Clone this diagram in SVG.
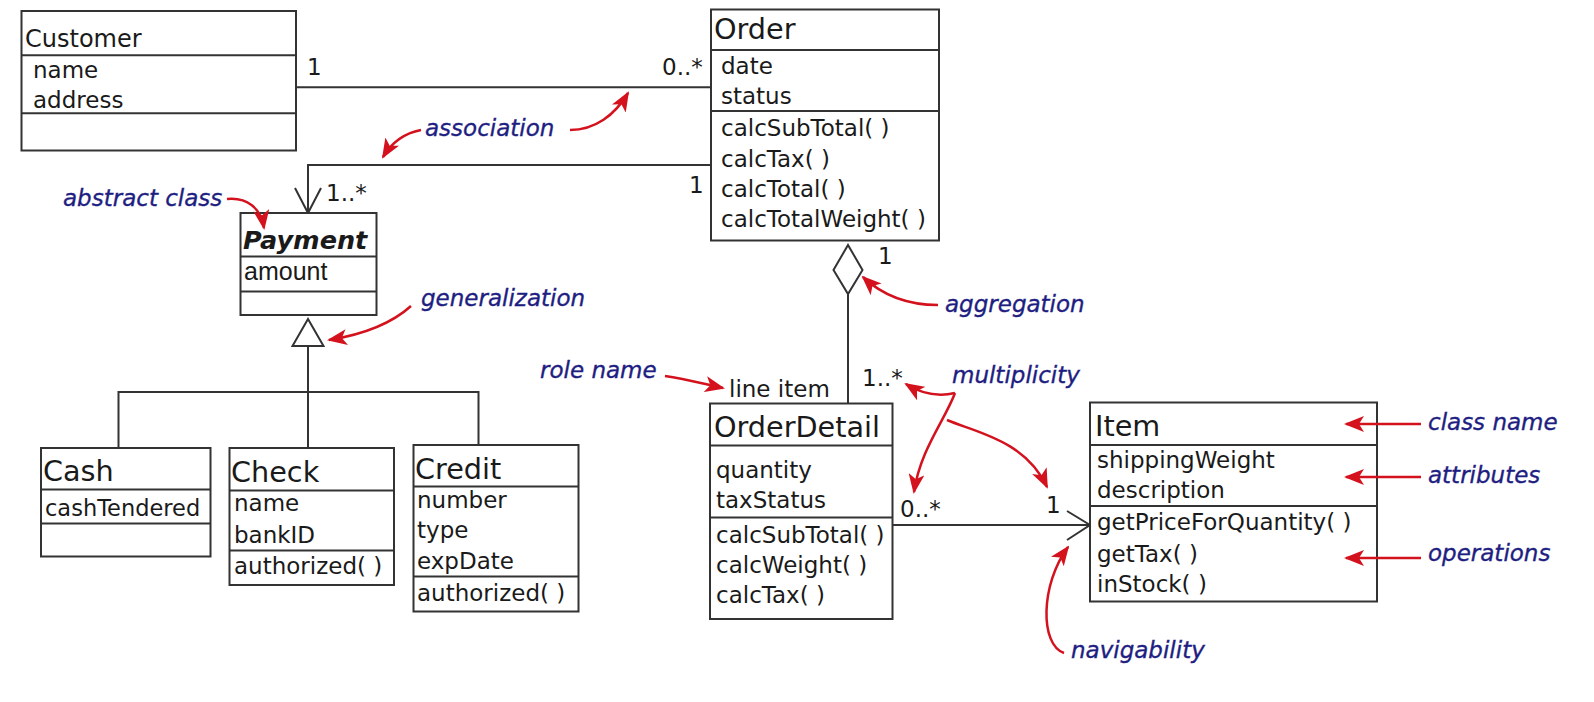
<svg xmlns="http://www.w3.org/2000/svg" width="1594" height="702" viewBox="0 0 1594 702">
<defs>
<marker id="ra" viewBox="0 0 20 16" refX="18" refY="8" markerWidth="20" markerHeight="16" orient="auto" markerUnits="userSpaceOnUse">
<path d="M0,0 L20,8 L0,16 L5,8 z" fill="#d4121e"/>
</marker>
<style>
.box{fill:#fff;stroke:#333;stroke-width:2}
.sep{stroke:#333;stroke-width:2}
.t{font-family:"DejaVu Sans",sans-serif;font-size:23px;fill:#1a1a1a}
.ti{font-family:"DejaVu Sans",sans-serif;font-size:28.7px;fill:#1a1a1a}
.ar{font-family:"Liberation Sans",Arial,sans-serif;font-size:25px;fill:#1a1a1a}
.note{font-family:"DejaVu Sans",sans-serif;font-style:italic;font-size:23px;fill:#1e1e82;stroke:#1e1e82;stroke-width:0.35}
.conn{stroke:#333;stroke-width:2;fill:none}
.head{stroke:#333;stroke-width:2;fill:#fff}
.red{stroke:#d4121e;stroke-width:2.5;fill:none;marker-end:url(#ra)}
</style>
</defs>
<rect width="1594" height="702" fill="#fff"/>

<g id="connectors">
<line class="conn" x1="296" y1="87.3" x2="711" y2="87.3"/>
<polyline class="conn" points="711,165 308,165 308,213"/>
<polyline class="conn" points="295,188 308,213 321,188"/>
<line class="conn" x1="308" y1="346" x2="308" y2="392"/>
<polyline class="conn" points="118.5,448 118.5,392 478.5,392 478.5,445"/>
<line class="conn" x1="308" y1="392" x2="308" y2="448"/>
<polygon class="head" points="308,319 292.5,346 323.5,346"/>
<line class="conn" x1="848" y1="294" x2="848" y2="403.5"/>
<polygon class="head" points="848,245 862.5,270 848,294 833.5,270"/>
<line class="conn" x1="892.5" y1="525" x2="1090" y2="525"/>
<polyline class="conn" points="1067,511 1090,525 1067,540"/>
<text class="t" x="307" y="75">1</text>
<text class="t" x="662" y="75">0..*</text>
<text class="t" x="689" y="193">1</text>
<text class="t" x="326" y="201">1..*</text>
<text class="t" x="878" y="264">1</text>
<text class="t" x="729" y="397">line item</text>
<text class="t" x="862" y="386">1..*</text>
<text class="t" x="900" y="517">0..*</text>
<text class="t" x="1046" y="513">1</text>
</g>

<g id="Customer">
<rect class="box" x="21.5" y="11" width="274.5" height="139.5"/>
<line class="sep" x1="21.5" y1="55.3" x2="296" y2="55.3"/>
<line class="sep" x1="21.5" y1="113.3" x2="296" y2="113.3"/>
<text class="t" x="25" y="47" style="font-size:24px">Customer</text>
<text class="t" x="33" y="78">name</text>
<text class="t" x="33" y="108">address</text>
</g>

<g id="Order">
<rect class="box" x="711" y="9.5" width="228" height="231"/>
<line class="sep" x1="711" y1="50" x2="939" y2="50"/>
<line class="sep" x1="711" y1="111" x2="939" y2="111"/>
<text class="ti" x="714" y="39">Order</text>
<text class="t" x="721" y="74">date</text>
<text class="t" x="721" y="104">status</text>
<text class="t" x="721" y="136">calcSubTotal( )</text>
<text class="t" x="721" y="166.5">calcTax( )</text>
<text class="t" x="721" y="196.5">calcTotal( )</text>
<text class="t" x="721" y="226.5">calcTotalWeight( )</text>
</g>

<g id="Payment">
<rect class="box" x="240.5" y="213" width="136" height="102"/>
<line class="sep" x1="240.5" y1="256.5" x2="376.5" y2="256.5"/>
<line class="sep" x1="240.5" y1="291.5" x2="376.5" y2="291.5"/>
<text class="t" x="243" y="249" style="font-size:25.5px;font-style:italic;font-weight:bold">Payment</text>
<text class="ar" x="244" y="280">amount</text>
</g>

<g id="Cash">
<rect class="box" x="41" y="448" width="169.5" height="108.5"/>
<line class="sep" x1="41" y1="489.5" x2="210.5" y2="489.5"/>
<line class="sep" x1="41" y1="523.5" x2="210.5" y2="523.5"/>
<text class="ti" x="43" y="481">Cash</text>
<text class="t" x="45" y="516" style="font-size:22.5px">cashTendered</text>
</g>

<g id="Check">
<rect class="box" x="229.5" y="448" width="164.5" height="137"/>
<line class="sep" x1="229.5" y1="490.5" x2="394" y2="490.5"/>
<line class="sep" x1="229.5" y1="550.5" x2="394" y2="550.5"/>
<text class="ti" x="231" y="482">Check</text>
<text class="t" x="234" y="511">name</text>
<text class="t" x="234" y="543">bankID</text>
<text class="t" x="234" y="573.5">authorized( )</text>
</g>

<g id="Credit">
<rect class="box" x="413.5" y="445" width="165" height="166.5"/>
<line class="sep" x1="413.5" y1="486.5" x2="578.5" y2="486.5"/>
<line class="sep" x1="413.5" y1="576.5" x2="578.5" y2="576.5"/>
<text class="ti" x="415" y="479">Credit</text>
<text class="t" x="417" y="507.5">number</text>
<text class="t" x="417" y="538">type</text>
<text class="t" x="417" y="569">expDate</text>
<text class="t" x="417" y="601">authorized( )</text>
</g>

<g id="OrderDetail">
<rect class="box" x="710" y="403.5" width="182.5" height="215.5"/>
<line class="sep" x1="710" y1="445.5" x2="892.5" y2="445.5"/>
<line class="sep" x1="710" y1="517.5" x2="892.5" y2="517.5"/>
<text class="ti" x="714" y="437">OrderDetail</text>
<text class="t" x="716" y="478">quantity</text>
<text class="t" x="716" y="508">taxStatus</text>
<text class="t" x="716" y="543">calcSubTotal( )</text>
<text class="t" x="716" y="573">calcWeight( )</text>
<text class="t" x="716" y="603">calcTax( )</text>
</g>

<g id="Item">
<rect class="box" x="1090" y="402.5" width="287" height="199"/>
<line class="sep" x1="1090" y1="445" x2="1377" y2="445"/>
<line class="sep" x1="1090" y1="506" x2="1377" y2="506"/>
<text class="ti" x="1095" y="436">Item</text>
<text class="t" x="1097" y="468">shippingWeight</text>
<text class="t" x="1097" y="498">description</text>
<text class="t" x="1097" y="530">getPriceForQuantity( )</text>
<text class="t" x="1097" y="561.5">getTax( )</text>
<text class="t" x="1097" y="591.5">inStock( )</text>
</g>

<g id="annotations">
<text class="note" x="425" y="136">association</text>
<path class="red" d="M421,130 C405,133 392,142 383,157"/>
<path class="red" d="M570,130 C595,130 615,115 628,93"/>
<text class="note" x="63" y="206">abstract class</text>
<path class="red" d="M227,199 C247,197 261,208 264,228"/>
<text class="note" x="421" y="306">generalization</text>
<path class="red" d="M411,306 C390,325 360,335 329,340"/>
<text class="note" x="945" y="312">aggregation</text>
<path class="red" d="M938,305 C905,305 880,293 863,277"/>
<text class="note" x="540" y="378">role name</text>
<path class="red" d="M665,376 C685,379 700,383 723,388"/>
<text class="note" x="952" y="383">multiplicity</text>
<path class="red" d="M955,393 Q930,399 906,384"/>
<path class="red" d="M955,393 C945,420 920,450 914,492"/>
<path class="red" d="M947,420 C975,432 1025,440 1047,487"/>
<text class="note" x="1428" y="430">class name</text>
<path class="red" d="M1421,424 L1346,424"/>
<text class="note" x="1428" y="483">attributes</text>
<path class="red" d="M1421,477 L1346,477"/>
<text class="note" x="1428" y="561">operations</text>
<path class="red" d="M1421,558 L1346,558"/>
<text class="note" x="1071" y="658">navigability</text>
<path class="red" d="M1064,653 C1040,645 1040,585 1068,547"/>
</g>
</svg>
